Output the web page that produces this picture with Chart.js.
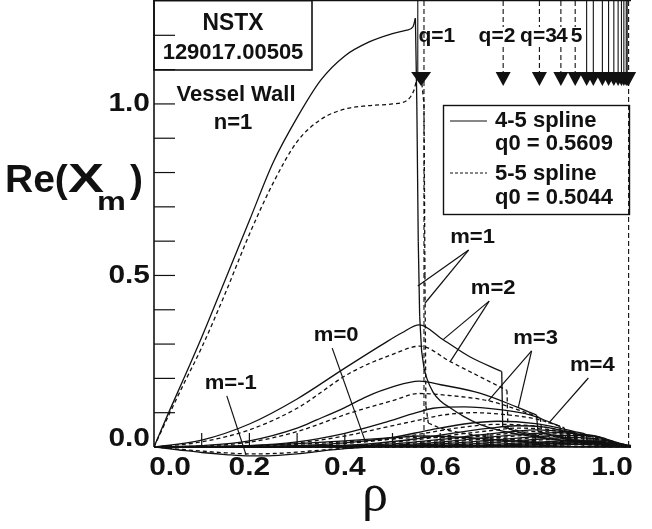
<!DOCTYPE html>
<html>
<head>
<meta charset="utf-8">
<script src="https://cdn.jsdelivr.net/npm/chart.js@4.4.1/dist/chart.umd.min.js"></script>
<style>
  body { margin: 0; background: #fff; }
</style>
</head>
<body>
<canvas id="myChart" width="652" height="529"></canvas>
<script>
// tick labels
const xTickLabels = ["0.0", "0.2", "0.4", "0.6", "0.8", "1.0"];
const yTickLabels = ["0.0", "0.5", "1.0"];

// rational surfaces (rho) and their labels
const qRho = [0.560, 0.732, 0.808, 0.853, 0.883, 0.907, 0.921, 0.940, 0.953, 0.964, 0.973, 0.980, 0.985, 0.990, 0.992, 0.995];
const qText = ["q=1", "q=2", "q=3", "4", "5"];

// m=1
const m1SolidRho = [0, 0.03, 0.061, 0.1, 0.15, 0.2, 0.25, 0.3, 0.35, 0.4, 0.45, 0.5, 0.53, 0.543, 0.548, 0.551, 0.554, 0.557, 0.561, 0.566, 0.572, 0.585, 0.6, 0.62, 0.648, 0.683, 0.72, 0.77, 0.82, 0.9, 1.0];
const m1SolidVal = [0, 0.098, 0.195, 0.32, 0.49, 0.66, 0.83, 0.96, 1.07, 1.14, 1.18, 1.205, 1.215, 1.225, 1.25, 1.0, 0.6, 0.38, 0.28, 0.23, 0.2, 0.16, 0.135, 0.115, 0.09, 0.066, 0.05, 0.036, 0.025, 0.013, 0.005];
const m1DashRho = [0, 0.03, 0.061, 0.1, 0.15, 0.2, 0.25, 0.3, 0.35, 0.4, 0.45, 0.5, 0.53, 0.545, 0.552, 0.56, 0.566, 0.568, 0.57, 0.575, 0.6, 0.65, 0.7, 0.75, 0.8, 0.9, 1.0];
const m1DashVal = [0, 0.09, 0.18, 0.29, 0.45, 0.62, 0.77, 0.89, 0.955, 0.985, 0.995, 1.0, 1.01, 1.04, 1.075, 1.08, 1.0, 0.5, 0.12, 0.07, 0.055, 0.04, 0.03, 0.022, 0.015, 0.008, 0.003];

// m=2
const m2SolidRho = [0, 0.1, 0.2, 0.3, 0.4, 0.48, 0.52, 0.556, 0.607, 0.662, 0.729, 0.731, 0.76, 0.8, 0.85, 0.9, 0.95, 1.0];
const m2SolidVal = [0, 0.02, 0.067, 0.14, 0.23, 0.3, 0.333, 0.356, 0.312, 0.263, 0.22, 0.06, 0.045, 0.032, 0.02, 0.012, 0.007, 0.003];
const m2DashRho = [0, 0.1, 0.2, 0.3, 0.41, 0.5, 0.558, 0.621, 0.683, 0.74, 0.742, 0.8, 0.85, 0.9, 0.95, 1.0];
const m2DashVal = [0, 0.015, 0.05, 0.113, 0.215, 0.27, 0.294, 0.249, 0.205, 0.165, 0.055, 0.035, 0.022, 0.013, 0.007, 0.003];

// m=3
const m3SolidRho = [0, 0.1, 0.2, 0.3, 0.341, 0.4, 0.446, 0.5, 0.556, 0.607, 0.683, 0.76, 0.802, 0.805, 0.85, 0.9, 0.95, 1.0];
const m3SolidVal = [0, 0.004, 0.018, 0.055, 0.079, 0.115, 0.147, 0.175, 0.192, 0.18, 0.157, 0.117, 0.093, 0.045, 0.03, 0.018, 0.01, 0.004];
const m3DashRho = [0, 0.1, 0.2, 0.3, 0.411, 0.5, 0.556, 0.62, 0.7, 0.76, 0.81, 0.813, 0.85, 0.9, 0.95, 1.0];
const m3DashVal = [0, 0.003, 0.014, 0.045, 0.099, 0.135, 0.156, 0.15, 0.135, 0.11, 0.085, 0.04, 0.028, 0.016, 0.009, 0.003];

// m=4
const m4SolidRho = [0, 0.2, 0.3, 0.4, 0.48, 0.55, 0.585, 0.65, 0.73, 0.79, 0.825, 0.851, 0.854, 0.9, 0.95, 1.0];
const m4SolidVal = [0, 0.004, 0.015, 0.04, 0.07, 0.1, 0.113, 0.117, 0.108, 0.093, 0.075, 0.06, 0.025, 0.015, 0.009, 0.003];
const m4DashRho = [0, 0.2, 0.3, 0.4, 0.48, 0.56, 0.6, 0.67, 0.74, 0.8, 0.835, 0.86, 0.863, 0.9, 0.95, 1.0];
const m4DashVal = [0, 0.003, 0.012, 0.032, 0.056, 0.08, 0.092, 0.1, 0.094, 0.082, 0.068, 0.056, 0.022, 0.014, 0.008, 0.003];

// higher m, shared rho grids
const m5Rho = [0, 0.3, 0.4, 0.5, 0.58, 0.65, 0.72, 0.8, 0.85, 0.882, 0.885, 0.95, 1.0];
const m5Solid = [0, 0.004, 0.012, 0.028, 0.05, 0.067, 0.075, 0.068, 0.055, 0.045, 0.018, 0.008, 0.003];
const m5Dashed = [0, 0.003, 0.01, 0.024, 0.043, 0.058, 0.066, 0.061, 0.05, 0.041, 0.016, 0.007, 0.003];

const m6Rho = [0, 0.35, 0.45, 0.55, 0.62, 0.7, 0.76, 0.82, 0.87, 0.906, 0.909, 0.95, 1.0];
const m6Solid = [0, 0.003, 0.009, 0.024, 0.039, 0.054, 0.062, 0.058, 0.045, 0.036, 0.014, 0.007, 0.003];
const m6Dashed = [0, 0.002, 0.007, 0.021, 0.034, 0.047, 0.055, 0.052, 0.041, 0.033, 0.013, 0.006, 0.003];

const m7Rho = [0, 0.4, 0.5, 0.6, 0.68, 0.75, 0.8, 0.86, 0.9, 0.92, 0.923, 0.96, 1.0];
const m7Solid = [0, 0.003, 0.009, 0.022, 0.035, 0.045, 0.05, 0.045, 0.036, 0.03, 0.012, 0.006, 0.003];
const m7Dashed = [0, 0.002, 0.007, 0.019, 0.031, 0.04, 0.045, 0.041, 0.033, 0.028, 0.011, 0.005, 0.002];

const m8Rho = [0, 0.45, 0.55, 0.65, 0.72, 0.8, 0.85, 0.9, 0.94, 0.943, 0.97, 1.0];
const m8Solid = [0, 0.003, 0.009, 0.021, 0.031, 0.04, 0.042, 0.036, 0.025, 0.01, 0.005, 0.002];
const m8Dashed = [0, 0.002, 0.007, 0.018, 0.027, 0.036, 0.038, 0.033, 0.023, 0.009, 0.005, 0.002];

const m9Rho = [0, 0.5, 0.6, 0.7, 0.78, 0.85, 0.9, 0.953, 0.956, 0.98, 1.0];
const m9Solid = [0, 0.003, 0.009, 0.019, 0.028, 0.034, 0.033, 0.02, 0.008, 0.004, 0.002];
const m9Dashed = [0, 0.002, 0.007, 0.016, 0.025, 0.031, 0.03, 0.018, 0.007, 0.004, 0.002];

const m10Rho = [0, 0.55, 0.65, 0.75, 0.82, 0.88, 0.93, 0.964, 0.967, 1.0];
const m10Solid = [0, 0.003, 0.008, 0.017, 0.024, 0.028, 0.024, 0.016, 0.006, 0.002];
const m10Dashed = [0, 0.002, 0.006, 0.015, 0.021, 0.025, 0.022, 0.015, 0.006, 0.002];

const m11Rho = [0, 0.6, 0.7, 0.8, 0.87, 0.93, 0.973, 0.976, 1.0];
const m11Solid = [0, 0.002, 0.007, 0.014, 0.019, 0.02, 0.012, 0.005, 0.002];
const m11Dashed = [0, 0.002, 0.005, 0.012, 0.017, 0.018, 0.011, 0.004, 0.002];

const m12Rho = [0, 0.65, 0.75, 0.85, 0.92, 0.98, 0.983, 1.0];
const m12Solid = [0, 0.002, 0.007, 0.013, 0.016, 0.01, 0.004, 0.002];
const m12Dashed = [0, 0.002, 0.006, 0.011, 0.014, 0.009, 0.004, 0.002];

const m13Rho = [0, 0.7, 0.8, 0.88, 0.94, 0.985, 0.988, 1.0];
const m13Solid = [0, 0.002, 0.007, 0.012, 0.013, 0.008, 0.003, 0.002];
const m13Dashed = [0, 0.002, 0.006, 0.01, 0.011, 0.007, 0.003, 0.002];

const m14Rho = [0, 0.75, 0.85, 0.92, 0.96, 0.99, 0.992, 1.0];
const m14Solid = [0, 0.002, 0.006, 0.01, 0.01, 0.006, 0.003, 0.001];
const m14Dashed = [0, 0.001, 0.005, 0.008, 0.009, 0.005, 0.002, 0.001];

// m=0 and m=-1
const m0Rho = [0, 0.1, 0.2, 0.3, 0.4, 0.5, 0.56, 0.65, 0.75, 0.85, 1.0];
const m0Solid = [0, 0.001, 0.004, 0.01, 0.018, 0.027, 0.032, 0.028, 0.018, 0.01, 0.002];
const m0Dashed = [0, 0.001, 0.003, 0.008, 0.015, 0.023, 0.028, 0.025, 0.016, 0.009, 0.002];

const mNeg1Rho = [0, 0.05, 0.1, 0.15, 0.2, 0.25, 0.3, 0.35, 0.4, 0.45, 0.5, 0.6, 0.7, 0.85, 1.0];
const mNeg1Solid = [0, -0.008, -0.016, -0.022, -0.026, -0.025, -0.02, -0.012, -0.005, 0, 0.003, 0.004, 0.003, 0.002, 0];
const mNeg1Dashed = [0, -0.006, -0.012, -0.017, -0.02, -0.019, -0.015, -0.009, -0.004, 0, 0.002, 0.003, 0.002, 0.001, 0];

// mode labels: [text, label rho, label value, [target rho, target value] ...]
const modeLabels = [
  ["m=-1", 0.161, 0.187, [[0.193, -0.023]]],
  ["m=0", 0.382, 0.326, [[0.442, 0.02]]],
  ["m=1", 0.668, 0.612, [[0.553, 0.469], [0.568, 0.419]]],
  ["m=2", 0.711, 0.463, [[0.606, 0.313], [0.621, 0.249]]],
  ["m=3", 0.8, 0.318, [[0.701, 0.135], [0.764, 0.117]]],
  ["m=4", 0.919, 0.239, [[0.827, 0.069]]]
];

// split a curve where it jumps at a rational surface, so the smooth
// parts stay smooth and the jump is a straight drop
function pieces(rho, val) {
  const out = [];
  let cur = [{ x: rho[0], y: val[0] }];
  for (let i = 1; i < rho.length; i++) {
    const p = { x: rho[i], y: val[i] };
    const slope = Math.abs((val[i] - val[i - 1]) / (rho[i] - rho[i - 1]));
    if (slope > 8) {
      if (cur.length > 1) out.push(cur);
      out.push([cur[cur.length - 1], p]);
      cur = [p];
    } else {
      cur.push(p);
    }
  }
  if (cur.length > 1) out.push(cur);
  return out;
}

const series = [
  ["m=1 4-5", m1SolidRho, m1SolidVal, false],
  ["m=1 5-5", m1DashRho, m1DashVal, true],
  ["m=2 4-5", m2SolidRho, m2SolidVal, false],
  ["m=2 5-5", m2DashRho, m2DashVal, true],
  ["m=3 4-5", m3SolidRho, m3SolidVal, false],
  ["m=3 5-5", m3DashRho, m3DashVal, true],
  ["m=4 4-5", m4SolidRho, m4SolidVal, false],
  ["m=4 5-5", m4DashRho, m4DashVal, true],
  ["m=5 4-5", m5Rho, m5Solid, false],
  ["m=5 5-5", m5Rho, m5Dashed, true],
  ["m=6 4-5", m6Rho, m6Solid, false],
  ["m=6 5-5", m6Rho, m6Dashed, true],
  ["m=7 4-5", m7Rho, m7Solid, false],
  ["m=7 5-5", m7Rho, m7Dashed, true],
  ["m=8 4-5", m8Rho, m8Solid, false],
  ["m=8 5-5", m8Rho, m8Dashed, true],
  ["m=9 4-5", m9Rho, m9Solid, false],
  ["m=9 5-5", m9Rho, m9Dashed, true],
  ["m=10 4-5", m10Rho, m10Solid, false],
  ["m=10 5-5", m10Rho, m10Dashed, true],
  ["m=11 4-5", m11Rho, m11Solid, false],
  ["m=11 5-5", m11Rho, m11Dashed, true],
  ["m=12 4-5", m12Rho, m12Solid, false],
  ["m=12 5-5", m12Rho, m12Dashed, true],
  ["m=13 4-5", m13Rho, m13Solid, false],
  ["m=13 5-5", m13Rho, m13Dashed, true],
  ["m=14 4-5", m14Rho, m14Solid, false],
  ["m=14 5-5", m14Rho, m14Dashed, true],
  ["m=0 4-5", m0Rho, m0Solid, false],
  ["m=0 5-5", m0Rho, m0Dashed, true],
  ["m=-1 4-5", mNeg1Rho, mNeg1Solid, false],
  ["m=-1 5-5", mNeg1Rho, mNeg1Dashed, true]
];

const datasets = [];
series.forEach(s => {
  pieces(s[1], s[2]).forEach(part => {
    datasets.push({
      label: s[0],
      data: part,
      showLine: true,
      borderColor: "#111",
      borderWidth: 1.3,
      borderDash: s[3] ? [4, 3] : [],
      pointRadius: 0,
      cubicInterpolationMode: "monotone",
      clip: { left: 0, top: 0, right: 0, bottom: 14 }
    });
  });
});

const SANS = '"Liberation Sans", Arial, Helvetica, sans-serif';

function text(ctx, str, x, y, size, align, sx) {
  ctx.save();
  ctx.font = "bold " + size + "px " + SANS;
  ctx.translate(x, y);
  ctx.scale(sx || 1, 1);
  ctx.textAlign = align || "center";
  ctx.textBaseline = "middle";
  ctx.fillText(str, 0, 0);
  ctx.restore();
}

function seg(ctx, x1, y1, x2, y2, dash) {
  ctx.setLineDash(dash || []);
  ctx.beginPath();
  ctx.moveTo(x1, y1);
  ctx.lineTo(x2, y2);
  ctx.stroke();
  ctx.setLineDash([]);
}

const decorPlugin = {
  id: "decor",
  afterDatasetsDraw(chart) {
    const ctx = chart.ctx;
    const xs = chart.scales.x, ys = chart.scales.y;
    const X = v => xs.getPixelForValue(v);
    const Y = v => ys.getPixelForValue(v);
    const x0 = X(0), x1 = X(1), y0 = Y(0), yTop = chart.chartArea.top;

    ctx.save();
    ctx.strokeStyle = "#111";
    ctx.fillStyle = "#111";

    // frame
    ctx.lineWidth = 1.6;
    seg(ctx, x0, yTop - 1, x0, y0);
    seg(ctx, x0, y0, x1, y0);
    seg(ctx, x0, 0.5, x1, 0.5);

    // inward ticks
    ctx.lineWidth = 1.2;
    for (let i = 1; i <= 12; i++) seg(ctx, x0, Y(i / 10), x0 + 21, Y(i / 10));
    for (let i = 1; i <= 9; i++) seg(ctx, X(i / 10), y0, X(i / 10), y0 - 14);

    // tick labels
    xTickLabels.forEach((t, i) => {
      let px = X(i * 0.2);
      if (i === 0) px += 16;
      if (i === xTickLabels.length - 1) px -= 19;
      text(ctx, t, px, y0 + 21, 26, "center", 1.15);
    });
    yTickLabels.forEach((t, i) => {
      let py = Y(i * 0.5);
      if (i === 0) py -= 8;
      text(ctx, t, x0 - 4, py, 26, "right", 1.15);
    });

    // axis titles
    ctx.textBaseline = "alphabetic";
    ctx.textAlign = "left";
    ctx.font = "bold 39px " + SANS;
    ctx.fillText("Re(", 5, 192);
    ctx.save();
    ctx.translate(68, 192);
    ctx.scale(1.35, 1);
    ctx.font = "bold 40px " + SANS;
    ctx.fillText("X", 0, 0);
    ctx.restore();
    ctx.save();
    ctx.translate(97, 210);
    ctx.scale(1.3, 1);
    ctx.font = "bold 25px " + SANS;
    ctx.fillText("m", 0, 0);
    ctx.restore();
    ctx.font = "bold 39px " + SANS;
    ctx.fillText(")", 130, 192);
    ctx.font = '52px "Liberation Serif", "Times New Roman", serif';
    ctx.textAlign = "center";
    ctx.fillText("\u03c1", 375, 510);

    // shot box
    ctx.lineWidth = 1.6;
    ctx.strokeRect(x0, 0.5, 158, 69.5);
    text(ctx, "NSTX", 233, 23, 24, "center", 0.95);
    text(ctx, "129017.00505", 233, 53, 22, "center", 1.0);
    text(ctx, "Vessel Wall", 236, 95, 22, "center", 1.0);
    text(ctx, "n=1", 233, 123, 22, "center", 1.0);

    // rational surface markers
    ctx.lineWidth = 1.1;
    const arrowBase = 72, arrowTip = 86;
    qRho.forEach((q, i) => {
      const px = X(q);
      if (i === 0) {
        seg(ctx, X(0.553), yTop, X(0.553), arrowBase);
        seg(ctx, X(0.566), yTop, X(0.566), y0, [5, 3]);
      } else if (i < qText.length) {
        seg(ctx, px, yTop, px, 27, [5, 3]);
        seg(ctx, px, 47, px, arrowBase, [5, 3]);
      } else if (i === qRho.length - 1) {
        seg(ctx, px, yTop, px, y0, [5, 3]);
      } else {
        seg(ctx, px, yTop, px, arrowBase);
      }
      const w = i === 0 ? 20 : 15;
      ctx.beginPath();
      ctx.moveTo(px - w / 2, arrowBase);
      ctx.lineTo(px + w / 2, arrowBase);
      ctx.lineTo(px, arrowTip);
      ctx.closePath();
      ctx.fill();
    });
    const qLabelRho = [0.593, 0.719, 0.806, 0.855, 0.886];
    qText.forEach((t, i) => text(ctx, t, X(qLabelRho[i]), 36, 20, "center", 1.05));

    // legend
    ctx.lineWidth = 1.4;
    ctx.strokeRect(443.5, 105.5, 186, 109);
    ctx.lineWidth = 1.2;
    seg(ctx, 450, 121, 487, 121);
    seg(ctx, 450, 173, 487, 173, [3, 2]);
    text(ctx, "4-5 spline", 495, 121, 22, "left", 1.0);
    text(ctx, "q0 = 0.5609", 495, 144, 22, "left", 1.0);
    text(ctx, "5-5 spline", 495, 174, 22, "left", 1.0);
    text(ctx, "q0 = 0.5044", 495, 198, 22, "left", 1.0);

    // mode labels with leaders
    ctx.lineWidth = 1.2;
    modeLabels.forEach(([t, lr, lv, targets]) => {
      const lx = X(lr), ly = Y(lv);
      text(ctx, t, lx, ly, 21, "center", 1.05);
      targets.forEach(([tr, tv]) => seg(ctx, lx - 4, ly + 13, X(tr), Y(tv)));
    });

    ctx.restore();
  }
};

const ctx = document.getElementById("myChart").getContext("2d");
const myChart = new Chart(ctx, {
  type: "scatter",
  data: { datasets: datasets },
  options: {
    responsive: false,
    animation: false,
    devicePixelRatio: 1,
    layout: { padding: { left: 154, right: 21, top: 1, bottom: 82 } },
    scales: {
      x: { type: "linear", min: 0, max: 1, display: false },
      y: { type: "linear", min: 0, max: 1.3, display: false }
    },
    plugins: {
      legend: { display: false },
      tooltip: { enabled: false }
    }
  },
  plugins: [decorPlugin]
});
</script>
</body>
</html>
